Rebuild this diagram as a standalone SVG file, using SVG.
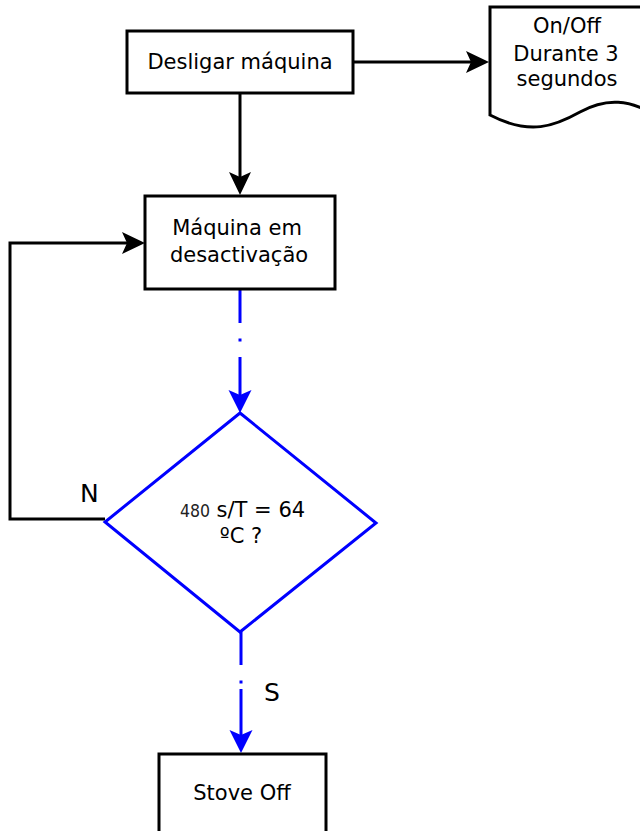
<svg xmlns="http://www.w3.org/2000/svg" width="640" height="831" viewBox="0 0 640 831">
<style>
.box{fill:#fff;stroke:#000;stroke-width:3}
.t{font-family:"DejaVu Sans",sans-serif;font-size:21px;fill:#000;text-anchor:middle}
.lbl{font-family:"DejaVu Sans",sans-serif;font-size:25px;fill:#000}
.blk{fill:none;stroke:#000;stroke-width:3}
.blu{fill:none;stroke:#0000ff;stroke-width:3}
</style>
<defs>
<marker id="ab" markerUnits="userSpaceOnUse" viewBox="-16 -13 28 26" markerWidth="28" markerHeight="26" refX="0" refY="0" orient="auto">
<path d="M10,0 L-13,-11 L-8,0 L-13,11 Z" fill="#000"/>
</marker>
<marker id="au" markerUnits="userSpaceOnUse" viewBox="-16 -13 28 26" markerWidth="28" markerHeight="26" refX="0" refY="0" orient="auto">
<path d="M10,0 L-13,-11.5 L-8,0 L-13,11.5 Z" fill="#0000ff"/>
</marker>
</defs>
<rect width="640" height="831" fill="#fff"/>
<g id="connectors">
<path class="blk" d="M353,62 H479" marker-end="url(#ab)"/>
<path class="blk" d="M240,93 V185" marker-end="url(#ab)"/>
<path class="blk" d="M105,519 H10 V243 H135" marker-end="url(#ab)"/>
<path class="blu" d="M240,289 V323 M240,338.5 V341.5 M240,357 V403" marker-end="url(#au)"/>
<path class="blu" d="M241,632 V665 M241,680.5 V683.5 M241,689 V743" marker-end="url(#au)"/>
<text class="lbl" x="80" y="502">N</text>
<text class="lbl" x="264" y="701">S</text>
</g>
<g id="desligar">
<rect class="box" x="127" y="31" width="226" height="62"/>
<text class="t" x="240" y="69">Desligar máquina</text>
</g>
<g id="onoff">
<path class="box" d="M490,7 H660 V118 C630,98 605,98 580,112 C555,126 530,136 490,115 Z"/>
<text class="t" x="567" y="33">On/Off</text>
<text class="t" x="566" y="61">Durante 3</text>
<text class="t" x="567" y="86">segundos</text>
</g>
<g id="desactivacao">
<rect class="box" x="145" y="196" width="190" height="93"/>
<text class="t" x="237" y="235">Máquina em</text>
<text class="t" x="239" y="262">desactivação</text>
</g>
<g id="decisao">
<polygon points="240,413 376,523 240,632 105,522" fill="#fff" stroke="#0000ff" stroke-width="3"/>
<text class="t" x="242.5" y="517"><tspan style="font-family:'DejaVu Sans Condensed','DejaVu Sans',sans-serif;font-size:17.5px;fill:#222">480</tspan> s/T = 64</text>
<text class="t" x="241" y="543">ºC ?</text>
</g>
<g id="stove">
<rect class="box" x="159" y="754" width="167" height="90"/>
<text class="t" x="242" y="800">Stove Off</text>
</g>
</svg>
